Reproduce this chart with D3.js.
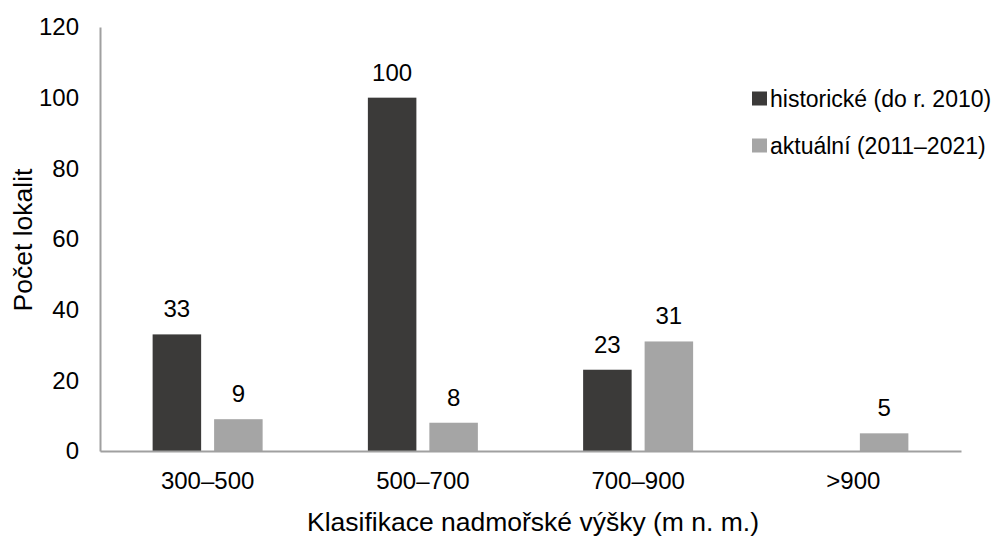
<!DOCTYPE html>
<html><head><meta charset="utf-8">
<script src="https://cdn.jsdelivr.net/npm/d3@7"></script>
<style>body{margin:0;background:#fff}svg text{font-family:"Liberation Sans",Arial,sans-serif;fill:#000}</style>
</head><body><svg id="c" width="1005" height="544"></svg>
<script>
const categories = ["300–500","500–700","700–900",">900"];
const seriesNames = ["historické (do r. 2010)","aktuální (2011–2021)"];
const historicke = [33,100,23,null];
const aktualni = [9,8,31,5];
const yTicks = [0,20,40,60,80,100,120];
const colors = ["#3b3a39","#a5a5a5"];

const svg = d3.select("#c");
const fs = 24, fsTitle = 26.5, fsLeg = 23;
const x0 = d3.scaleBand().domain(categories).range([100,961]).padding(0);
const x1 = d3.scaleBand().domain([0,1]).range([-55,55]).paddingInner(0.211);
const y = d3.scaleLinear().domain([0,120]).range([451,27]);

const seriesVals = [historicke, aktualni];
seriesVals.forEach((vals,si)=>{
  const g = svg.append("g");
  const data = categories.map((c,i)=>({c,v:vals[i]})).filter(d=>d.v!=null);
  g.selectAll("rect").data(data).enter().append("rect")
    .attr("x",d=>x0(d.c)+x0.bandwidth()/2+x1(si))
    .attr("width",x1.bandwidth())
    .attr("y",d=>y(d.v))
    .attr("height",d=>y(0)-y(d.v))
    .attr("fill",colors[si]);
  g.selectAll("text").data(data).enter().append("text")
    .attr("x",d=>x0(d.c)+x0.bandwidth()/2+x1(si)+x1.bandwidth()/2)
    .attr("y",d=>y(d.v)-17)
    .attr("text-anchor","middle")
    .style("font-size",fs+"px")
    .text(d=>d.v);
});

// axes
const yAxis = svg.append("g").attr("transform","translate(100,0)")
  .call(d3.axisLeft(y).tickValues(yTicks).tickSize(0).tickPadding(21));
yAxis.select(".domain").attr("stroke","#a0a0a0").attr("stroke-width",2);
yAxis.selectAll("text").style("font-size",fs+"px").attr("fill","#000");

const xAxis = svg.append("g").attr("transform","translate(0,451)")
  .call(d3.axisBottom(x0).tickSize(0).tickPadding(21));
xAxis.select(".domain").attr("stroke","#a0a0a0").attr("stroke-width",2);
xAxis.selectAll("text").style("font-size",fs+"px").attr("fill","#000");

svg.append("text").attr("transform","translate(32,240) rotate(-90)")
  .attr("text-anchor","middle").style("font-size",fsTitle+"px").text("Počet lokalit");
svg.append("text").attr("x",533).attr("y",531)
  .attr("text-anchor","middle").style("font-size",fsTitle+"px").text("Klasifikace nadmořské výšky (m n. m.)");

// legend
const leg = svg.append("g");
seriesNames.forEach((n,i)=>{
  const cy = 98.5 + i*47;
  leg.append("rect").attr("x",752).attr("y",cy-7).attr("width",15).attr("height",14).attr("fill",colors[i]);
  leg.append("text").attr("x",770).attr("y",cy).attr("dy","0.35em").style("font-size",fsLeg+"px").text(n);
});
</script></body></html>
